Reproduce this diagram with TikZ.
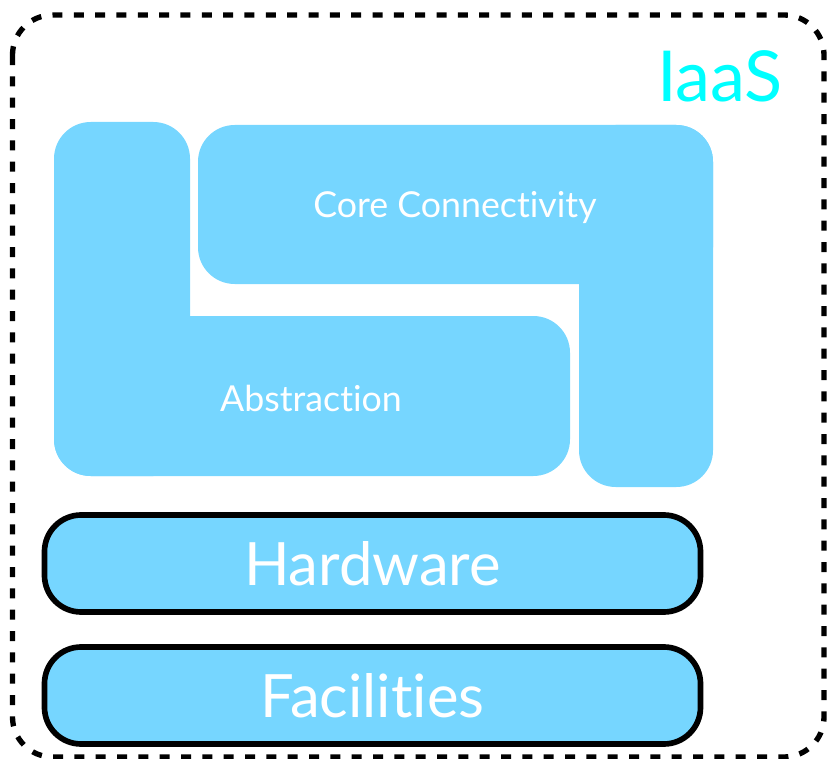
\documentclass[tikz,border=0pt]{standalone}
\usepackage{fontspec}
\setmainfont{Lato}[Ligatures=NoCommon]
\usetikzlibrary{positioning}
\definecolor{sky}{RGB}{118,214,255}
\definecolor{iaascyan}{RGB}{0,255,255}

\begin{document}
\begin{tikzpicture}
[x=0.03cm, y=-0.03cm,
% STYLES
% The block style is used to fill the pieces of the upper layers
block/.style={fill=sky, rounded corners=1.1cm},
% The layer style is used to draw the outlined bottom layers
layer/.style={rectangle, draw=black, fill=sky, line width=0.17cm, rounded corners=1.1cm, minimum width=19.68cm, minimum height=2.91cm, text=white, font=\fontsize{51}{55}\selectfont},
% The piece style is used to write the names of the upper layers
piece/.style={text=white, font=\fontsize{30.5}{34}\selectfont}]

\useasboundingbox (0,0) rectangle (827,759);

% Outer frame
\draw[line width=0.16cm, dash pattern=on 0.3cm off 0.34cm, rounded corners=1.2cm] (12.5,15) rectangle (824,757);
\node[text=iaascyan, font=\fontsize{60}{64}\selectfont] (iaas) at (720,76) {IaaS};

% ABSTRACTION
\fill[block] (54,122) rectangle (190,476);
\fill[block] (54,316) rectangle (570,476);
% CORE CONNECTIVITY
\fill[block] (198,125) rectangle (713,284);
\fill[block] (579,125) rectangle (713,487);

\node[piece] (core) at (455,208) {Core Connectivity};
\node[piece] (abstraction) at (311,398) {Abstraction};

% Bottom layers
\node[layer] (hardware) at (372.5,563.5) {Hardware};
\node[layer] (facilities) at (372.5,695.5) {Facilities};

\end{tikzpicture}
\end{document}
